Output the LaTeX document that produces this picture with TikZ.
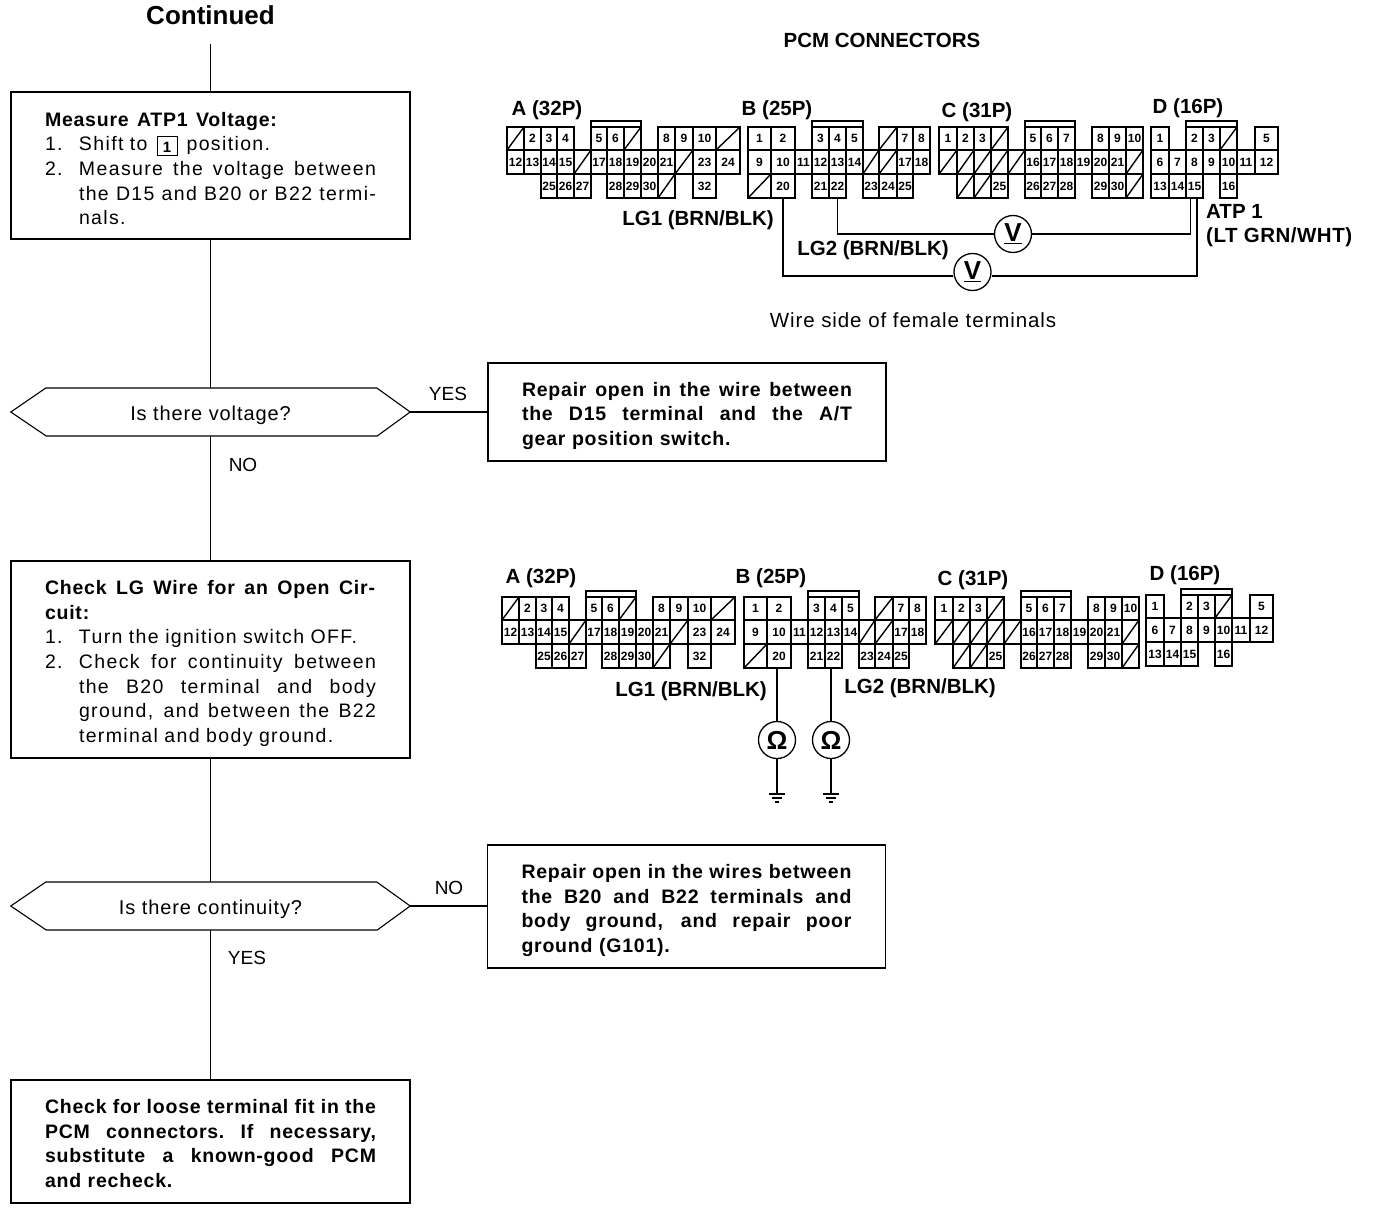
\documentclass[tikz,border=0pt]{standalone}
\usepackage{fontspec}
\setmainfont{Liberation Sans}
\newfontfamily\bx[LetterSpace=4]{Liberation Sans Bold}
\newfontfamily\rx[LetterSpace=7]{Liberation Sans}
\newfontfamily\qx[LetterSpace=4.5]{Liberation Sans}
\newfontfamily\hd{Liberation Sans Bold}
\newfontfamily\hdx[LetterSpace=2.5]{Liberation Sans Bold}
\usetikzlibrary{calc}
\newcommand\jglue{\spaceskip=.25em plus 1em minus .1em\xspaceskip=\spaceskip}
\newcommand\jl[2][330pt]{\makebox[#1][s]{\jglue #2}}
\newcommand\nl[2]{\makebox[34pt][l]{#1}\makebox[297pt][s]{\jglue #2}}
\newcommand\nn[2]{\makebox[34pt][l]{#1}#2}
\newcommand\up[1]{\rule{0pt}{#1pt}}
\def\slmark{x}
\newcommand\cellrow[3]{%
  \foreach \xa/\xb/\lab in {#3}{%
    \ifx\lab\slmark
      \node[cellbox,minimum width={(\xb-\xa)*1pt},minimum height={(#2-#1)*1pt}] (\pfx-s\xa-#1) at ({(\xa+\xb)/2},{(#1+#2)/2}) {};
      \draw[cellline] (\pfx-s\xa-#1.south west) -- (\pfx-s\xa-#1.north east);
    \else
      \node[cellbox,minimum width={(\xb-\xa)*1pt},minimum height={(#2-#1)*1pt}] (\pfx-\lab) at ({(\xa+\xb)/2},{(#1+#2)/2}) {\lab};
    \fi
  }}
\newcommand\bracket[2]{\draw[cellline] (#1.north west) -- ++(0,-6) -| (#2.north east);}
\newcommand\connA{%
  \cellrow{127}{150}{507/524/x,524/541/2,541/557/3,557/574/4,591/607/5,607/624/6,624/641/x,658/675/8,675/693/9,693/716/10,716/740/x}
  \cellrow{150}{174}{507/524/12,524/541/13,541/557/14,557/574/15,574/591/x,591/607/17,607/624/18,624/641/19,641/658/20,658/675/21,675/693/x,693/716/23,716/740/24}
  \cellrow{174}{198}{541/557/25,557/574/26,574/591/27,607/624/28,624/641/29,641/658/30,658/675/x,693/716/32}
  \bracket{\pfx-5}{\pfx-s624-127}}
\newcommand\connB{%
  \cellrow{127}{150}{748/771/1,771/795/2,812/829/3,829/846/4,846/863/5,879/897/x,897/913/7,913/930/8}
  \cellrow{150}{174}{748/771/9,771/795/10,795/812/11,812/829/12,829/846/13,846/863/14,863/879/x,879/897/x,897/913/17,913/930/18}
  \cellrow{174}{198}{748/771/x,771/795/20,812/829/21,829/846/22,863/879/23,879/897/24,897/913/25}
  \bracket{\pfx-3}{\pfx-5}}
\newcommand\connC{%
  \cellrow{127}{150}{939/957/1,957/974/2,974/991/3,991/1008/x,1025/1041/5,1041/1058/6,1058/1075/7,1092/1109/8,1109/1126/9,1126/1143/10}
  \cellrow{150}{174}{939/957/x,957/974/x,974/991/x,991/1008/x,1008/1025/x,1025/1041/16,1041/1058/17,1058/1075/18,1075/1092/19,1092/1109/20,1109/1126/21,1126/1143/x}
  \cellrow{174}{198}{957/974/x,974/991/x,991/1008/25,1025/1041/26,1041/1058/27,1058/1075/28,1092/1109/29,1109/1126/30,1126/1143/x}
  \bracket{\pfx-5}{\pfx-7}}
\newcommand\connD{%
  \cellrow{127}{150}{1151/1169/1,1186/1203/2,1203/1220/3,1220/1237/x,1255/1278/5}
  \cellrow{150}{174}{1151/1169/6,1169/1186/7,1186/1203/8,1203/1220/9,1220/1237/10,1237/1255/11,1255/1278/12}
  \cellrow{174}{198}{1151/1169/13,1169/1186/14,1186/1203/15,1220/1237/16}
  \bracket{\pfx-2}{\pfx-s1220-127}}
\tikzset{
  cellbox/.style={draw=black,line width=1.4pt,inner sep=0pt,outer sep=0pt,font=\hd\fontsize{12}{12}\selectfont},
  cellline/.style={draw=black,line width=1.4pt},
  flow/.style={draw=black,line width=1.1pt},
  wire/.style={draw=black,line width=1.3pt},
  stepbox/.style={draw=black,line width=1.3pt,inner sep=0pt,minimum width=399pt,align=left,text width=331pt},
  repairbox/.style={draw=black,line width=1.3pt,inner sep=0pt,minimum width=398pt,align=left,text width=330pt},
  bodyfont/.style={font=\fontsize{19.5}{24.6}\selectfont},
  qbox/.style={minimum width=399pt,minimum height=48pt,inner sep=0pt,font=\qx\fontsize{20}{22}\selectfont},
  lab/.style={inner sep=0pt,font=\fontsize{19}{22}\selectfont},
  wlab/.style={inner sep=0pt,font=\qx\fontsize{20.5}{22}\selectfont},
  conlab/.style={inner sep=0pt,font=\hd\fontsize{20.5}{22}\selectfont},
  meter/.style={circle,draw=black,line width=1.3pt,minimum size=37pt,inner sep=0pt,fill=white,font=\hd\fontsize{26}{26}\selectfont},
}
\begin{document}
\begin{tikzpicture}[x=1pt,y=-1pt]
\useasboundingbox (0,0) rectangle (1376,1210);
\fill[white] (0,0) rectangle (1376,1210);
% --- flow ---
\node[inner sep=0pt,font=\hd\fontsize{26}{28}\selectfont] (cont) at (210.5,15) {Continued};
\node[stepbox,minimum height=147pt,bodyfont] (s1) at (210.5,165.5) {%
  \up{20}{\bx\jl[232pt]{Measure ATP1 Voltage:}}\\
  {\rx\nn{1.}{Shift to\hspace{3pt} \raisebox{-1.5pt}{\framebox[20pt][c]{\rule{0pt}{13pt}\smash{\hd\fontsize{15}{15}\selectfont 1}}}\hspace{3pt} position.}}\\
  {\rx\nl{2.}{Measure the voltage between}}\\
  {\rx\nl{}{the D15 and B20 or B22 termi-}}\\
  {\rx\nn{}{nals.}}};
\node[qbox] (q1) at (210.5,412) {\up{22}Is there voltage?};
\node[repairbox,minimum height=98pt,bodyfont] (r1) at (687,412) {%
  \up{22}{\bx\jl{Repair open in the wire between}}\\
  {\bx\jl{the D15 terminal and the A/T}}\\
  {\bx gear position switch.}};
\node[stepbox,minimum height=197pt,bodyfont] (s2) at (210.5,659.5) {%
  \up{22}{\bx\jl{Check LG Wire for an Open Cir-}}\\
  {\bx cuit:}\\
  {\rx\nn{1.}{Turn the ignition switch OFF.}}\\
  {\rx\nl{2.}{Check for continuity between}}\\
  {\rx\nl{}{the B20 terminal and body}}\\
  {\rx\nl{}{ground, and between the B22}}\\
  {\rx\nn{}{terminal and body ground.}}};
\node[qbox] (q2) at (210.5,906) {\up{22}Is there continuity?};
\node[repairbox,minimum height=123pt,bodyfont] (r2) at (686.5,906.5) {%
  \up{22}{\bx\jl{Repair open in the wires between}}\\
  {\bx\jl{the B20 and B22 terminals and}}\\
  {\bx\jl{body ground, and repair poor}}\\
  {\bx ground (G101).}};
\node[stepbox,minimum height=123pt,bodyfont] (s3) at (210.5,1141.5) {%
  \up{18}{\bx\jl[331pt]{Check for loose terminal fit in the}}\\
  {\bx\jl[331pt]{PCM connectors. If necessary,}}\\
  {\bx\jl[331pt]{substitute a known-good PCM}}\\
  {\bx and recheck.}};
\draw[flow] (q1.west) -- ++(35,-24) -- ++(331,0) -- (q1.east) -- ++(-33,24) -- ++(-331,0) -- cycle;
\draw[flow] (q2.west) -- ++(35,-24) -- ++(331,0) -- (q2.east) -- ++(-33,24) -- ++(-331,0) -- cycle;
\draw[flow] (cont.south |- 0,44) -- (s1.north);
\draw[flow] (s1.south) -- (q1.north);
\draw[flow] (q1.south) -- (s2.north);
\draw[flow] (s2.south) -- (q2.north);
\draw[flow] (q2.south) -- (s3.north);
\draw[flow] (q1.east) -- (r1.west);
\draw[flow] (q2.east) -- (q2.east -| r2.west);
\node[lab] (yes1) at (448,394) {YES};
\node[lab] (no1) at (243,465) {NO};
\node[lab] (no2) at (449,888) {NO};
\node[lab] (yes2) at (247,958) {YES};
% --- upper connectors ---
\node[conlab] (pcm) at (882,40) {PCM CONNECTORS};
\def\pfx{ta}\connA
\def\pfx{tb}\connB
\def\pfx{tc}\connC
\def\pfx{td}\connD
\node[conlab] (la) at (547,110) {A (32P)};
\node[conlab] (lb) at (777,110) {B (25P)};
\node[conlab] (lc) at (977,112) {C (31P)};
\node[conlab] (ld) at (1188,108) {D (16P)};
\node[conlab] (lg1) at (698,220) {LG1 (BRN/BLK)};
\node[conlab] (lg2) at (873,250) {LG2 (BRN/BLK)};
\node[conlab,anchor=west] (atp) at (1206,211) {ATP 1};
\node[conlab,anchor=west,font=\hdx\fontsize{20.5}{22}\selectfont] (atpc) at (1206,237) {(LT GRN/WHT)};
\node[wlab] (wire) at (913,320) {Wire side of female terminals};
\node[meter] (v1) at (1013,234) {\underline{V}};
\node[meter] (v2) at (972.5,272) {\underline{V}};
\coordinate (d15a) at ($(td-15.south)+(-4,0)$);
\coordinate (d15b) at ($(td-15.south)+(2.5,0)$);
\draw[wire] (tb-22.south) |- (v1.west);
\draw[wire] (v1.east) -| (d15a);
\draw[wire] (tb-20.south) |- (v2.west |- 0,276);
\draw[wire] (v2.east |- 0,276) -| (d15b);
% --- lower connectors ---
\begin{scope}[shift={(-5,470)}]\def\pfx{ba}\connA\end{scope}
\begin{scope}[shift={(-4,470)}]\def\pfx{bb}\connB\end{scope}
\begin{scope}[shift={(-4,470)}]\def\pfx{bc}\connC\end{scope}
\begin{scope}[shift={(-5,468)}]\def\pfx{bd}\connD\end{scope}
\node[conlab] (la2) at (541,578) {A (32P)};
\node[conlab] (lb2) at (771,578) {B (25P)};
\node[conlab] (lc2) at (973,580) {C (31P)};
\node[conlab] (ld2) at (1185,575) {D (16P)};
\node[conlab] (lg1b) at (691,691) {LG1 (BRN/BLK)};
\node[conlab] (lg2b) at (920,688) {LG2 (BRN/BLK)};
\node[meter] (o1) at (777,740) {Ω};
\node[meter] (o2) at (831,740) {Ω};
\coordinate (g1) at (777,794);
\coordinate (g2) at (831,794);
\draw[wire] (o1.north |- bb-20.south) -- (o1.north);
\draw[wire] (o2.north |- bb-22.south) -- (o2.north);
\draw[wire] (o1.south) -- (g1);
\draw[wire] (o2.south) -- (g2);
\foreach \g in {g1,g2}{
  \draw[wire] ($(\g)+(-8,0)$) -- ($(\g)+(8,0)$);
  \draw[wire] ($(\g)+(-5,4)$) -- ($(\g)+(5,4)$);
  \draw[wire] ($(\g)+(-2,8)$) -- ($(\g)+(2,8)$);
}
\end{tikzpicture}
\end{document}
